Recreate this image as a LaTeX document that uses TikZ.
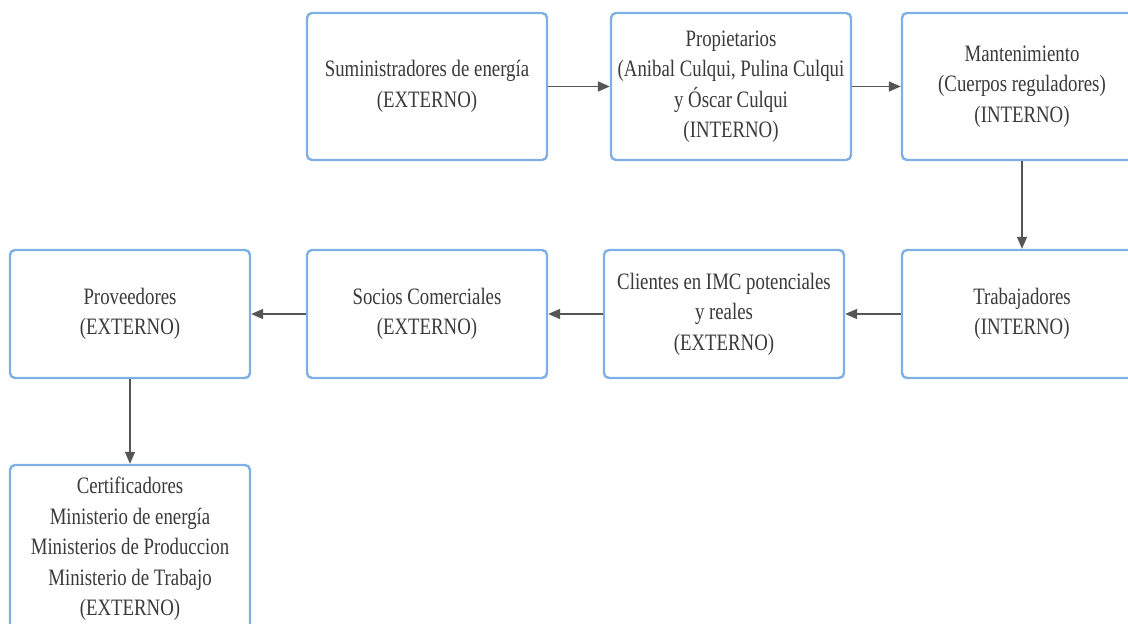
\documentclass[tikz,border=0pt]{standalone}
\usepackage{fontspec}
\setmainfont{Liberation Serif}[FakeStretch=0.8]
\usetikzlibrary{arrows.meta}
\definecolor{boxblue}{HTML}{7EB0E6}
\definecolor{txtgray}{HTML}{3A3A3A}
\definecolor{arrgray}{HTML}{555555}
\begin{document}
\begin{tikzpicture}[x=1pt,y=1pt,
  card/.style={draw=boxblue, line width=2.4pt, rounded corners=5pt, fill=white,
    minimum width=240pt, align=center, text=txtgray,
    font=\fontsize{23.5}{30.5}\selectfont, inner sep=0pt},
  tall/.style={card, minimum height=147pt},
  short/.style={card, minimum height=128pt},
  link/.style={draw=arrgray, line width=1.6pt, -{Triangle[length=12pt,width=10pt]}}]
\useasboundingbox (0,0) rectangle (1128,624);
\clip (0,0) rectangle (1128,624);
% top row
\node[tall] (sum) at (427,537.5) {Suministradores de energía\\(EXTERNO)};
\node[tall] (prop) at (731,537.5) {Propietarios\\(Anibal Culqui, Pulina Culqui\\y Óscar Culqui\\(INTERNO)};
\node[tall] (mant) at (1022,537.5) {Mantenimiento\\(Cuerpos reguladores)\\(INTERNO)};
% middle row
\node[short] (trab) at (1022,310) {Trabajadores\\(INTERNO)};
\node[short] (cli) at (724,310) {Clientes en IMC potenciales\\y reales\\(EXTERNO)};
\node[short] (soc) at (427,310) {Socios Comerciales\\(EXTERNO)};
\node[short] (prov) at (130,310) {Proveedores\\(EXTERNO)};
% bottom
\node[card, minimum height=168pt] (cert) at (130,75) {Certificadores\\Ministerio de energía\\Ministerios de Produccion\\Ministerio de Trabajo\\(EXTERNO)};
% connectors
\draw[link] (sum) -- (prop);
\draw[link] (prop) -- (mant);
\draw[link] (mant) -- (trab);
\draw[link] (trab) -- (cli);
\draw[link] (cli) -- (soc);
\draw[link] (soc) -- (prov);
\draw[link] (prov) -- (cert);
\end{tikzpicture}
\end{document}
